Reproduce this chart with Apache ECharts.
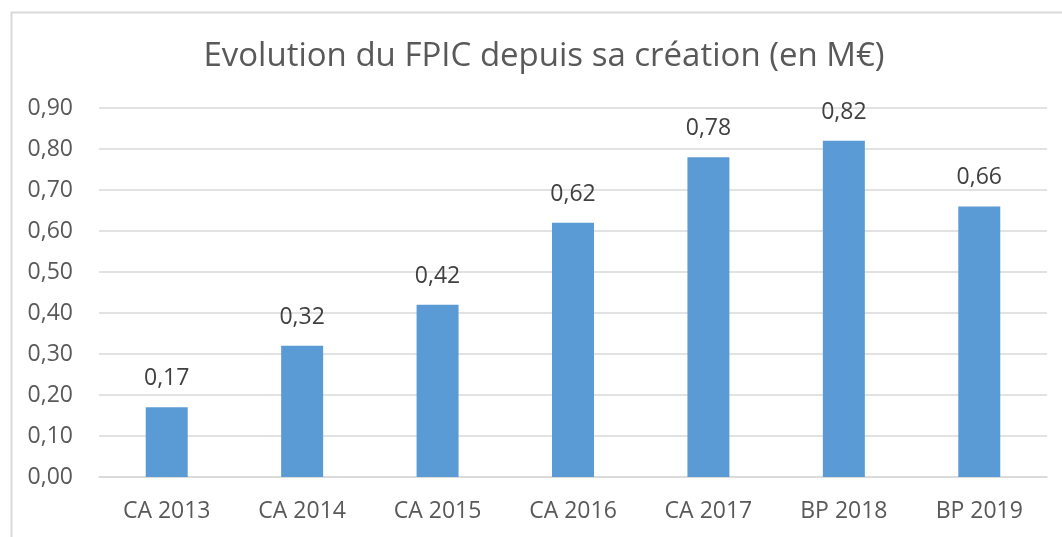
<!DOCTYPE html>
<html><head><meta charset="utf-8">
<script src="https://cdn.jsdelivr.net/npm/echarts@6/dist/echarts.min.js"></script>
<style>html,body{margin:0;padding:0;background:#fff}#c{width:1062px;height:537px}</style>
</head><body><div id="c"></div>
<script>
const categories = ['CA 2013','CA 2014','CA 2015','CA 2016','CA 2017','BP 2018','BP 2019'];
const values = [0.17, 0.32, 0.42, 0.62, 0.78, 0.82, 0.66];
const titleText = 'Evolution du FPIC depuis sa création (en M€)';
const fmt = v => Number(v).toFixed(2).replace('.', ',');
const FONT = 'Open Sans';
const chart = echarts.init(document.getElementById('c'));
chart.setOption({
  animation: false,
  backgroundColor: '#fff',
  graphic: [{type:'rect', left: 9, top: 10, shape:{width:1100, height:600}, style:{fill:'none', stroke:'#D9D9D9', lineWidth:2}, silent:true, z:-10}],
  title: {text: titleText, left: 539, top: 35, textAlign: 'center',
    textStyle: {fontFamily: FONT, fontSize: 33, fontWeight: 'normal', color: '#595959'}},
  grid: {left: 99, right: 15, top: 108, bottom: 60, containLabel: false},
  xAxis: {type: 'category', data: categories,
    axisLine: {lineStyle: {color: '#D9D9D9', width: 1.5}}, axisTick: {show: false},
    axisLabel: {fontFamily: FONT, fontSize: 23, color: '#595959', margin: 23}},
  yAxis: {type: 'value', min: 0, max: 0.9, interval: 0.1,
    axisLine: {show: false}, axisTick: {show: false},
    splitLine: {lineStyle: {color: '#D9D9D9', width: 1.5}},
    axisLabel: {fontFamily: FONT, fontSize: 23, color: '#595959', margin: 26, formatter: fmt}},
  series: [{type: 'bar', data: values, barWidth: '31%',
    itemStyle: {color: '#5B9BD5'},
    label: {show: true, position: 'top', distance: 17, fontFamily: FONT, fontSize: 23, color: '#404040', formatter: p => fmt(p.value)}}]
});
</script></body></html>
